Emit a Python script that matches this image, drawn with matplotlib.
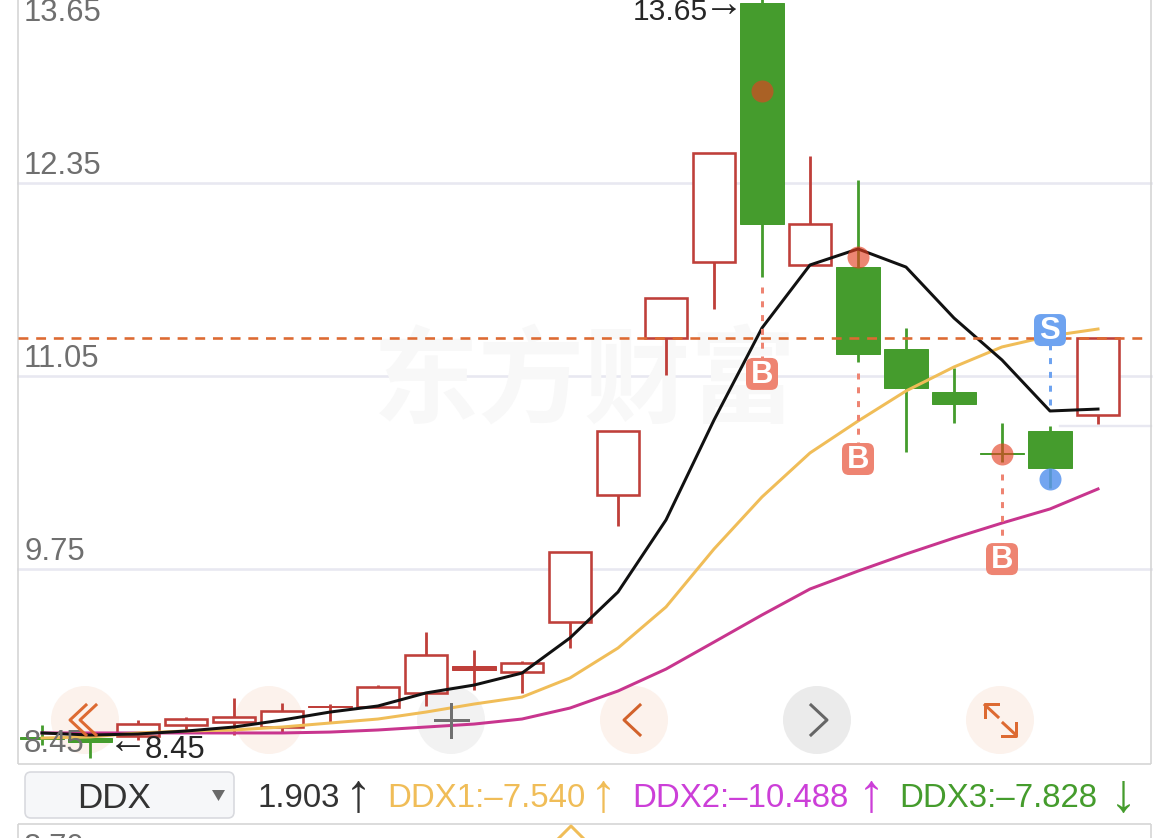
#!/usr/bin/env python3

import matplotlib
matplotlib.use('Agg')
import matplotlib.pyplot as plt
from matplotlib.patches import Rectangle, Circle, FancyBboxPatch, Polygon
from matplotlib.transforms import Affine2D, IdentityTransform

plt.rcParams['font.family'] = ['Liberation Sans', 'DejaVu Sans']

# candles
opens = [8.615, 8.608, 8.621, 8.696, 8.716, 8.682, 8.817, 8.817, 8.912, 9.067, 9.053, 9.39,
         10.247, 11.306, 11.819, 13.566, 11.799, 11.785, 11.232, 10.942, 10.530, 10.679, 10.787]
closes = [8.601, 8.58, 8.702, 8.736, 8.750, 8.790, 8.824, 8.952, 9.168, 9.094, 9.114, 9.863,
          10.679, 11.576, 12.554, 12.075, 12.075, 11.198, 10.969, 10.861, 10.524, 10.429, 11.306]
highs = [8.696, 8.628, 8.729, 8.750, 8.878, 8.844, 8.837, 8.965, 9.323, 9.202, 9.127, 9.863,
         10.679, 11.576, 12.554, 13.65, 12.534, 12.372, 11.374, 11.104, 10.733, 10.713, 11.306]
lows = [8.561, 8.473, 8.594, 8.662, 8.628, 8.642, 8.716, 8.817, 8.824, 8.932, 8.912, 9.215,
        10.038, 11.057, 11.502, 11.718, 11.799, 11.144, 10.537, 10.733, 10.470, 10.294, 10.726]
# bars 6 and 9 are so thin they read as solid
solid_up = [6, 9]

# moving lines
ddx_black = [8.642, 8.628, 8.635, 8.655, 8.682, 8.729, 8.783, 8.824, 8.912, 8.965, 9.046, 9.283,
             9.593, 10.079, 10.753, 11.374, 11.799, 11.907, 11.785, 11.441, 11.158, 10.814, 10.827]
ddx_yellow = [8.608, 8.615, 8.642, 8.655, 8.662, 8.682, 8.709, 8.736, 8.783, 8.837, 8.884, 9.013,
              9.215, 9.492, 9.883, 10.234, 10.531, 10.746, 10.949, 11.111, 11.246, 11.320, 11.367]
ddx_magenta = [8.642, 8.642, 8.642, 8.642, 8.642, 8.642, 8.648, 8.662, 8.682, 8.702, 8.736, 8.810,
               8.925, 9.073, 9.255, 9.438, 9.613, 9.734, 9.849, 9.957, 10.058, 10.153, 10.288]

# signals
buy_idx = [15, 17, 20]
buy_dot = [12.973, 11.853, 10.524]
buy_from = [11.65, 11.07, 10.39]
buy_tag = [11.064, 10.490, 9.815]
sell_idx = 21
sell_dot = 10.355
sell_line_to = 10.814
sell_tag = 11.360

price_ticks = [13.65, 12.35, 11.05, 9.75, 8.45]
tick_labels = ['13.65', '12.35', '11.05', '9.75', '8.45']
last_price = 11.306
max_price = 13.65
min_price = 8.45
legend_main = '1.903'
legend_items = ['DDX1:–7.540', 'DDX2:–10.488', 'DDX3:–7.828']
legend_arrows = ['↑', '↑', '↓']

RED = '#bf3f3a'
GREEN = '#459c2d'
BLACK = '#111111'
YELLOW = '#f0bd58'
MAGENTA = '#c8358e'
ORANGE = '#dd6a32'
SALMON = '#ee8472'
BLUE = '#6ea3f0'
GRAY_TXT = '#6f6f6f'
DARK = '#333333'
PX = 0.72  # points per pixel at dpi 100


def tag(ax, i, price, letter, col):
    '''rounded square signal tag, 32 px wide whatever the scales are'''
    x, y = ax.transData.transform((i, price))
    ax.add_patch(FancyBboxPatch((x - 11, y - 11), 22, 22, boxstyle='round,pad=5,rounding_size=7',
                                fc=col, ec='none', transform=IdentityTransform(), zorder=9))
    ax.annotate(letter, (i, price), xytext=(0, -1), textcoords='offset pixels', ha='center',
                va='center', color='white', fontsize=31 * PX, fontweight='bold', zorder=10)


def main():
    fig = plt.figure(figsize=(11.7, 8.38), dpi=100)
    ax = fig.add_axes([0, 0, 1, 1])
    ax.set_axis_off()
    # one candle step is 48 px, first candle at x=42
    ax.set_xlim(-42 / 48, (1170 - 42) / 48)
    ax.set_ylim(13.5865 - 0.006746 * 838, 13.5865)

    # pixel coordinates for the app chrome (buttons, borders, legend row)
    px = Affine2D().scale(1, -1).translate(0, 838)

    # gridlines
    for p in price_ticks[1:4]:
        ax.axhline(p, xmin=18 / 1170, xmax=1151 / 1170, color='#e8e8f1', lw=2.6 * PX, zorder=1)
    ax.plot([1060, 1151], [426, 426], color='#e8e8f1', lw=2.4 * PX, transform=px, zorder=1)

    # watermark
    ax.text(585, 383, '东方财富', transform=px, family=['Noto Sans CJK SC', 'DejaVu Sans'],
            fontsize=106 * PX, fontweight='bold', color='#f8f8f8', ha='center', va='center', zorder=1)

    # panel borders
    for xs, ys in [([18, 18], [0, 764]), ([18, 1151], [764, 764]), ([1151, 1151], [0, 764]),
                   ([18, 1151], [824, 824]), ([18, 18], [824, 838]), ([1151, 1151], [824, 838])]:
        ax.plot(xs, ys, color='#d4d4d4', lw=1.6 * PX, transform=px, zorder=2, solid_capstyle='butt')

    # round buttons sit under the candles
    for cx, col in [(85, '#fcf2ec'), (269, '#fcf2ec'), (451, '#f2f2f2'), (634, '#fcf2ec'),
                    (817, '#ebebeb'), (1000, '#fcf2ec')]:
        ax.add_patch(Circle((cx, 720), 34, fc=col, ec='none', transform=px, zorder=2))

    # candles
    for i in range(len(opens)):
        up = closes[i] >= opens[i]
        col = RED if up else GREEN
        ax.plot([i, i], [lows[i], highs[i]], color=col, lw=2.8 * PX, zorder=3, solid_capstyle='butt')
        bot = min(opens[i], closes[i])
        h = abs(closes[i] - opens[i])
        if up and i not in solid_up:
            ax.add_patch(Rectangle((i - 0.44, bot), 0.88, h, fc='white', ec=col, lw=2.6 * PX, zorder=4))
        else:
            ax.add_patch(Rectangle((i - 0.46, bot), 0.92, h, fc=col, ec=col, lw=1 * PX, zorder=4))

    # last price
    ax.plot([-0.5, 23], [last_price, last_price], color=ORANGE, lw=2.6 * PX, zorder=6,
            dashes=(3.8, 3.0))

    xs = list(range(len(ddx_black)))
    ax.plot(xs, ddx_magenta, color=MAGENTA, lw=3 * PX, zorder=5)
    ax.plot(xs, ddx_yellow, color=YELLOW, lw=3 * PX, zorder=5)
    ax.plot(xs, ddx_black, color=BLACK, lw=3 * PX, zorder=5)

    # buy signals
    for i, dot, start, tag_p in zip(buy_idx, buy_dot, buy_from, buy_tag):
        ax.plot([i, i], [start, tag_p], color=SALMON, lw=3 * PX, dashes=(2, 2.6), zorder=6)
        ax.plot(i, dot, 'o', ms=22 * PX, mfc='#e44022', mec='none', alpha=0.64, zorder=7)
        tag(ax, i, tag_p, 'B', SALMON)

    # sell signal
    ax.plot([sell_idx, sell_idx], [sell_tag, sell_line_to], color=BLUE, lw=3 * PX, dashes=(2, 2.6), zorder=6)
    ax.plot(sell_idx, sell_dot, 'o', ms=22 * PX, mfc='#5b96ee', mec='none', alpha=0.85, zorder=7)
    tag(ax, sell_idx, sell_tag, 'S', BLUE)

    # axis labels sit just above their gridline, except the top one
    for p, lab in zip(price_ticks, tick_labels):
        off = -37 if lab == '13.65' else 2
        ax.annotate(lab, (0, p), xycoords=('axes fraction', 'data'), xytext=(24, off),
                    textcoords='offset pixels', fontsize=31 * PX, color=GRAY_TXT, va='bottom', zorder=8)

    # high / low notes, the high sits above the cropped top of the chart
    ax.annotate(f'{max_price:.2f}', (14.58, max_price), xytext=(-34, -21), textcoords='offset pixels',
                ha='right', va='center', fontsize=30 * PX, color='#262626', zorder=8, annotation_clip=False)
    ax.annotate('→', (14.58, max_price), xytext=(-18, -15), textcoords='offset pixels',
                ha='center', va='center', fontsize=40 * PX, color='#262626', zorder=8, annotation_clip=False)
    ax.annotate(f'{min_price:.2f}', (1.5, min_price), xytext=(31, 11), textcoords='offset pixels',
                ha='left', va='center', fontsize=31 * PX, color='#262626', zorder=8)
    ax.annotate('←', (1.5, min_price), xytext=(14, 19), textcoords='offset pixels',
                ha='center', va='center', fontsize=40 * PX, color='#262626', zorder=8)

    # button icons
    for dx in (0, 10):
        ax.plot([86 + dx, 70 + dx, 86 + dx], [705, 720, 735], color=ORANGE, lw=3 * PX, transform=px, zorder=8)
    ax.plot([435, 468], [720, 720], color='#707070', lw=3 * PX, transform=px, zorder=8)
    ax.plot([451, 451], [704, 737], color='#707070', lw=3 * PX, transform=px, zorder=8)
    ax.plot([640, 624, 640], [705, 720, 735], color='#d2622b', lw=3 * PX, transform=px, zorder=8)
    ax.plot([811, 827, 811], [705, 720, 735], color='#666666', lw=3 * PX, transform=px, zorder=8)
    ax.plot([985, 998], [705, 717], color=ORANGE, lw=3 * PX, transform=px, zorder=8)
    ax.plot([1003, 1016], [723, 735], color=ORANGE, lw=3 * PX, transform=px, zorder=8)
    ax.plot([985, 985, 998], [717, 704, 704], color=ORANGE, lw=3 * PX, transform=px, zorder=8)
    ax.plot([1002, 1016, 1016], [736, 736, 723], color=ORANGE, lw=3 * PX, transform=px, zorder=8)

    # dropdown
    ax.add_patch(FancyBboxPatch((27, 774), 205, 42, boxstyle='round,pad=2,rounding_size=6',
                                fc='#f6f7f9', ec='#d8d9de', lw=1.6 * PX, transform=px, zorder=3))
    ax.text(114, 798, 'DDX', transform=px, fontsize=35 * PX, color=DARK, ha='center', va='center', zorder=4)
    ax.add_patch(Polygon([(212, 790), (225, 790), (218.5, 801)], fc='#6a6a6a', ec='none',
                         transform=px, zorder=4))

    # legend row
    ax.text(258, 798, legend_main, transform=px, fontsize=33 * PX, color=DARK, va='center', zorder=4)
    ax.text(358, 796, '↑', transform=px, fontsize=54 * PX, color=DARK, ha='center', va='center', zorder=4)
    label_x = [387, 632, 899]
    arrow_x = [603, 871, 1123]
    cols = [YELLOW, '#cc3fd8', GREEN]
    for lab, arr, lx, arr_x, col in zip(legend_items, legend_arrows, label_x, arrow_x, cols):
        ax.text(lx, 798, lab, transform=px, fontsize=33 * PX, color=col, va='center', zorder=4)
        ax.text(arr_x, 796, arr, transform=px, fontsize=54 * PX, color=col, ha='center', va='center', zorder=4)

    # top of the next panel, cut off by the screenshot
    ax.text(24, 833, '8.70', transform=px, fontsize=31 * PX, color=GRAY_TXT, va='top', zorder=4)
    ax.plot([559, 571, 583], [838, 826, 838], color=YELLOW, lw=3 * PX, transform=px, zorder=4)

    fig.savefig('out.png', dpi=100)


if __name__ == "__main__":
    main()
